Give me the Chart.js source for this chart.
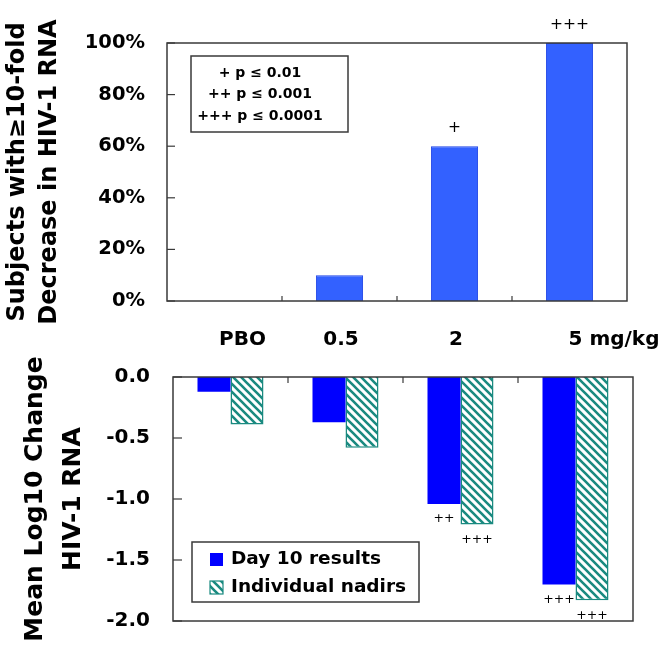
<!DOCTYPE html>
<html><head><meta charset="utf-8">
<script src="https://cdn.jsdelivr.net/npm/chart.js@4.4.0/dist/chart.umd.min.js"></script>
<style>
html,body{margin:0;padding:0;background:#fff;}
#wrap{position:relative;width:662px;height:656px;background:#fff;}
canvas{position:absolute;left:0;top:0;}
</style></head><body>
<div id="wrap"><canvas id="topChart" width="662" height="656"></canvas><canvas id="bottomChart" width="662" height="656"></canvas></div>
<script>
// ---- data ----
const categories = ['PBO', '0.5', '2', '5 mg/kg'];
const pctResponders = [0, 10, 60, 100];
const responderMarks = ['', '', '+', '+++'];
const seriesNames = ['Day 10 results', 'Individual nadirs'];
const day10Change = [-0.12, -0.37, -1.04, -1.70];
const nadirChange = [-0.39, -0.58, -1.21, -1.83];
const day10Marks = ['', '', '++', '+++'];
const nadirMarks = ['', '', '+++', '+++'];
const pKeyLines = ['+ p \u2264 0.01', '++ p \u2264 0.001', '+++ p \u2264 0.0001'];
const topTitle = ['Subjects with\u226510-fold', 'Decrease in HIV-1 RNA'];
const bottomTitle = ['Mean Log10 Change', 'HIV-1 RNA'];

// ---- styles ----
const FONT = '"DejaVu Sans", "Liberation Sans", sans-serif';
const FRAME = '#3a3a3a';
const TEAL = '#1a8a80';
const TOP_BLUE = '#3361ff';
const TOP_BLUE_EDGE = '#1f44e6';
const DAY_BLUE = '#0000ff';

function makeHatch() {
  const s = 8;
  const c = document.createElement('canvas'); c.width = s; c.height = s;
  const g = c.getContext('2d');
  g.fillStyle = '#ffffff'; g.fillRect(0, 0, s, s);
  g.strokeStyle = TEAL; g.lineWidth = 2.6;
  g.beginPath();
  for (let k = -1; k <= 1; k++) { g.moveTo(-2, -2 + k * s); g.lineTo(s + 2, s + 2 + k * s); }
  g.stroke();
  return c;
}
const hatchCanvas = makeHatch();
const hatch = document.getElementById('bottomChart').getContext('2d').createPattern(hatchCanvas, 'repeat');

function seg(ctx, x1, y1, x2, y2) { ctx.beginPath(); ctx.moveTo(x1, y1); ctx.lineTo(x2, y2); ctx.stroke(); }

function drawFrameAndTicks(chart, yTickLen, xTickLen, xTicksAtTop) {
  const {ctx, chartArea: a, scales: {x, y}} = chart;
  ctx.strokeStyle = FRAME; ctx.lineWidth = 1.5;
  ctx.strokeRect(a.left, a.top, a.right - a.left, a.bottom - a.top);
  ctx.lineWidth = 1.2;
  y.ticks.forEach(t => {
    const py = y.getPixelForValue(t.value);
    seg(ctx, a.left, py, a.left + yTickLen, py);
  });
  for (let i = 0; i < categories.length - 1; i++) {
    const px = (x.getPixelForValue(i) + x.getPixelForValue(i + 1)) / 2;
    if (xTicksAtTop) seg(ctx, px, a.top, px, a.top + xTickLen);
    else seg(ctx, px, a.bottom, px, a.bottom - xTickLen);
  }
}

const topDeco = {
  id: 'topDeco',
  afterDatasetsDraw(chart) {
    const {ctx, chartArea: a, scales: {x}} = chart;
    ctx.save();
    drawFrameAndTicks(chart, 8, 5, false);
    // significance marks above bars
    ctx.fillStyle = '#000'; ctx.textAlign = 'center'; ctx.textBaseline = 'middle';
    ctx.font = '15.5px ' + FONT;
    chart.getDatasetMeta(0).data.forEach((el, i) => {
      if (responderMarks[i]) ctx.fillText(responderMarks[i], el.x, el.y - 18);
    });
    // key box
    const bx = a.left + 24, by = a.top + 13, bw = 157, bh = 76;
    ctx.fillStyle = '#fff'; ctx.fillRect(bx, by, bw, bh);
    ctx.strokeStyle = FRAME; ctx.lineWidth = 1.5; ctx.strokeRect(bx, by, bw, bh);
    ctx.fillStyle = '#000'; ctx.font = 'bold 14px ' + FONT;
    pKeyLines.forEach((t, i) => ctx.fillText(t, bx + 69, by + 17 + i * 21.5));
    // category labels
    const shift = [18, 1.5, 1.5, 44.5];
    ctx.font = 'bold 20px ' + FONT;
    categories.forEach((c, i) => ctx.fillText(c, x.getPixelForValue(i) + shift[i], 340));
    ctx.restore();
  }
};

const bottomDeco = {
  id: 'bottomDeco',
  afterDatasetsDraw(chart) {
    const {ctx, chartArea: a} = chart;
    ctx.save();
    drawFrameAndTicks(chart, 9, 6, true);
    ctx.fillStyle = '#000'; ctx.textAlign = 'center'; ctx.textBaseline = 'middle';
    ctx.font = '12.5px ' + FONT;
    [day10Marks, nadirMarks].forEach((marks, d) => {
      chart.getDatasetMeta(d).data.forEach((el, i) => {
        if (marks[i]) ctx.fillText(marks[i], el.x, el.y + 15);
      });
    });
    // legend
    const lx = a.left + 19, ly = a.top + 165, lw = 227, lh = 60;
    ctx.fillStyle = '#fff'; ctx.fillRect(lx, ly, lw, lh);
    ctx.strokeStyle = FRAME; ctx.lineWidth = 1.5; ctx.strokeRect(lx, ly, lw, lh);
    const ds = chart.data.datasets;
    ds.forEach((d, i) => {
      const sy = ly + 11 + i * 28;
      ctx.fillStyle = d.backgroundColor;
      ctx.fillRect(lx + 18, sy, 13, 13);
      if (d.borderWidth) { ctx.strokeStyle = d.borderColor; ctx.lineWidth = 1.2; ctx.strokeRect(lx + 18, sy, 13, 13); }
      ctx.fillStyle = '#000'; ctx.textAlign = 'left'; ctx.font = 'bold 18.5px ' + FONT;
      ctx.fillText(d.label, lx + 39, ly + 17 + i * 28);
    });
    ctx.restore();
  }
};

Chart.defaults.font.family = FONT;
Chart.defaults.color = '#000';

new Chart(document.getElementById('topChart'), {
  type: 'bar',
  data: {
    labels: categories,
    datasets: [{
      data: pctResponders,
      backgroundColor: TOP_BLUE, borderColor: TOP_BLUE_EDGE, borderWidth: 1,
      barPercentage: 0.41, categoryPercentage: 1
    }]
  },
  options: {
    responsive: false, animation: false,
    layout: {padding: {top: 43, right: 35, bottom: 355, left: 0}},
    plugins: {legend: {display: false}, tooltip: {enabled: false}},
    scales: {
      x: {display: false},
      y: {
        min: 0, max: 100,
        grid: {display: false, drawTicks: false}, border: {display: false},
        ticks: {stepSize: 20, padding: 22, font: {size: 19.5, weight: 'bold'}, callback: v => v + '%'},
        title: {display: true, text: topTitle, font: {size: 24, weight: 'bold', lineHeight: 1.333}, padding: {top: 2, bottom: 0}},
        afterFit: s => { s.width = 167; }
      }
    }
  },
  plugins: [topDeco]
});

new Chart(document.getElementById('bottomChart'), {
  type: 'bar',
  data: {
    labels: categories,
    datasets: [
      {label: seriesNames[0], data: day10Change, backgroundColor: DAY_BLUE, borderWidth: 0,
       barPercentage: 1, categoryPercentage: 0.574},
      {label: seriesNames[1], data: nadirChange, backgroundColor: hatch, borderColor: TEAL, borderWidth: 1.5,
       barPercentage: 1, categoryPercentage: 0.574}
    ]
  },
  options: {
    responsive: false, animation: false,
    layout: {padding: {top: 377, right: 29, bottom: 22, left: 0}},
    plugins: {legend: {display: false}, tooltip: {enabled: false}},
    scales: {
      x: {display: false},
      y: {
        min: -2, max: 0,
        grid: {display: false, drawTicks: false}, border: {display: false},
        ticks: {stepSize: 0.5, padding: 23, font: {size: 20, weight: 'bold'}, callback: v => Number(v).toFixed(1)},
        title: {display: true, text: bottomTitle, font: {size: 25, weight: 'bold', lineHeight: 1.52}, padding: {top: 16, bottom: 0}},
        afterFit: s => { s.width = 173; }
      }
    }
  },
  plugins: [bottomDeco]
});
</script>
</body></html>
